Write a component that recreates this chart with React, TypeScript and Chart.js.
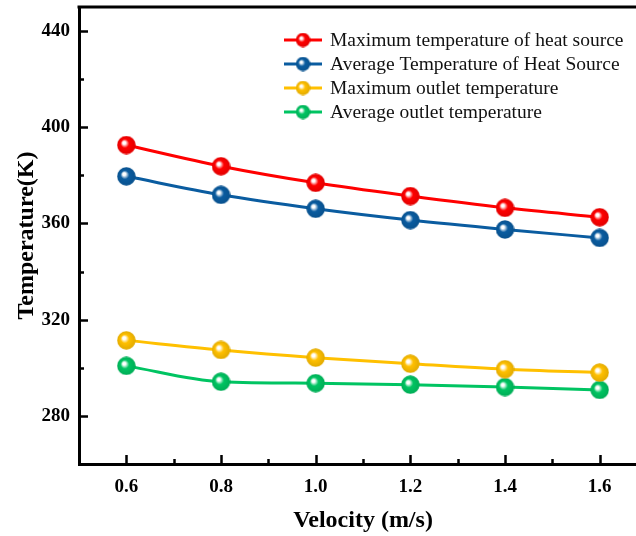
import { useEffect, useRef } from 'react';
import { Chart, registerables } from 'chart.js';

Chart.register(...registerables);

const velocities = [0.6, 0.8, 1.0, 1.2, 1.4, 1.6];
const maxHeatSource = [392.6, 383.8, 376.9, 371.4, 366.5, 362.6];
const avgHeatSource = [379.6, 371.9, 366.1, 361.4, 357.5, 354.0];
const maxOutlet = [311.4, 307.4, 304.2, 301.7, 299.4, 298.0];
const avgOutlet = [300.8, 294.2, 293.6, 293.0, 292.0, 290.8];

const seriesNames = [
  'Maximum temperature of heat source',
  'Average Temperature of Heat Source',
  'Maximum outlet temperature',
  'Average outlet temperature',
];
const seriesColors = ['#FF0000', '#0A5CA0', '#FFC000', '#00C462'];
const seriesValues = [maxHeatSource, avgHeatSource, maxOutlet, avgOutlet];

const xMajorTicks = [0.6, 0.8, 1.0, 1.2, 1.4, 1.6];
const xMinorTicks = [0.7, 0.9, 1.1, 1.3, 1.5];
const yMajorTicks = [280, 320, 360, 400, 440];
const yMinorTicks = [300, 340, 380, 420];

function shade(hex: string, f: number) {
  const n = parseInt(hex.slice(1), 16);
  const r = Math.round(((n >> 16) & 255) * f);
  const g = Math.round(((n >> 8) & 255) * f);
  const b = Math.round((n & 255) * f);
  return `rgb(${r},${g},${b})`;
}

function makeSphere(color: string, d: number) {
  const c = document.createElement('canvas');
  c.width = d;
  c.height = d;
  const g = c.getContext('2d')!;
  const r = d / 2;
  const grad = g.createRadialGradient(r * 0.72, r * 0.72, 0, r, r, r);
  grad.addColorStop(0, '#ffffff');
  grad.addColorStop(0.16, '#ffffff');
  grad.addColorStop(0.45, color);
  grad.addColorStop(1, shade(color, 0.88));
  g.fillStyle = grad;
  g.beginPath();
  g.arc(r, r, r - 0.3, 0, Math.PI * 2);
  g.fill();
  return c;
}

export default function App() {
  const ref = useRef<HTMLCanvasElement | null>(null);

  useEffect(() => {
    document.body.style.overflow = 'hidden';
    Chart.defaults.font.family = "'Liberation Serif', 'Times New Roman', serif";
    const spheres = seriesColors.map((c) => makeSphere(c, 19));
    const legendSpheres = seriesColors.map((c) => makeSphere(c, 15));

    const decor = {
      id: 'decor',
      afterDraw(chart: any) {
        const { ctx, chartArea } = chart;
        const { left, right, top, bottom } = chartArea;
        const xs = chart.scales.x;
        const ys = chart.scales.y;
        ctx.save();
        ctx.strokeStyle = '#000';
        ctx.lineWidth = 2.5;
        ctx.beginPath();
        yMajorTicks.forEach((v) => {
          const p = Math.round(ys.getPixelForValue(v)) + 0.5;
          ctx.moveTo(left, p);
          ctx.lineTo(left + 9, p);
        });
        yMinorTicks.forEach((v) => {
          const p = Math.round(ys.getPixelForValue(v)) + 0.5;
          ctx.moveTo(left, p);
          ctx.lineTo(left + 5, p);
        });
        xMajorTicks.forEach((v) => {
          const p = Math.round(xs.getPixelForValue(v)) + 0.5;
          ctx.moveTo(p, bottom);
          ctx.lineTo(p, bottom - 9);
        });
        xMinorTicks.forEach((v) => {
          const p = Math.round(xs.getPixelForValue(v)) + 0.5;
          ctx.moveTo(p, bottom);
          ctx.lineTo(p, bottom - 5);
        });
        ctx.stroke();
        ctx.lineWidth = 3;
        ctx.beginPath();
        ctx.moveTo(left - 1.5, top);
        ctx.lineTo(right + 2, top);
        ctx.stroke();

        // legend
        const lx = 284;
        const ly = 40;
        seriesNames.forEach((name, i) => {
          const y = ly + i * 24;
          ctx.strokeStyle = seriesColors[i];
          ctx.lineWidth = 3;
          ctx.beginPath();
          ctx.moveTo(lx, y);
          ctx.lineTo(lx + 38, y);
          ctx.stroke();
          ctx.drawImage(legendSpheres[i], lx + 19 - 7.5, y - 7.5);
          ctx.fillStyle = '#111';
          ctx.font = "19.5px 'Liberation Serif'";
          ctx.textAlign = 'left';
          ctx.textBaseline = 'middle';
          ctx.fillText(name, lx + 46, y + 1);
        });
        ctx.restore();
      },
    };

    const chart = new Chart(ref.current!, {
      type: 'line',
      data: {
        datasets: seriesValues.map((vals, i) => ({
          label: seriesNames[i],
          data: vals.map((v, j) => ({ x: velocities[j], y: v })),
          borderColor: seriesColors[i],
          backgroundColor: seriesColors[i],
          borderWidth: 3,
          pointStyle: spheres[i] as any,
          cubicInterpolationMode: 'monotone' as const,
          fill: false,
        })),
      },
      options: {
        animation: false,
        responsive: true,
        maintainAspectRatio: false,
        events: [],
        layout: { padding: { left: 0, right: 13, top: 7, bottom: 0 } },
        plugins: {
          legend: { display: false },
          tooltip: { enabled: false },
        },
        scales: {
          x: {
            type: 'linear',
            min: 0.5,
            max: 1.7,
            afterBuildTicks: (s: any) => {
              s.ticks = xMajorTicks.map((v) => ({ value: v }));
            },
            afterFit: (s: any) => {
              s.height = 72;
              s.paddingLeft = 0;
              s.paddingRight = 0;
            },
            grid: { drawOnChartArea: false, drawTicks: false },
            border: { display: true, color: '#000', width: 3 },
            ticks: {
              color: '#000',
              padding: 12,
              font: { size: 19, weight: 'bold' },
              callback: (v: any) => Number(v).toFixed(1),
              maxRotation: 0,
            },
            title: {
              display: true,
              text: 'Velocity (m/s)',
              color: '#000',
              font: { size: 24, weight: 'bold' },
              padding: { top: 0, bottom: 1 },
            },
          },
          y: {
            type: 'linear',
            min: 260,
            max: 450,
            afterBuildTicks: (s: any) => {
              s.ticks = yMajorTicks.map((v) => ({ value: v }));
            },
            afterFit: (s: any) => {
              s.width = 79;
              s.paddingTop = 0;
              s.paddingBottom = 0;
            },
            grid: { drawOnChartArea: false, drawTicks: false },
            border: { display: true, color: '#000', width: 3 },
            ticks: {
              color: '#000',
              padding: 9,
              font: { size: 19, weight: 'bold' },
              callback: (v: any) => String(v),
            },
            title: {
              display: true,
              text: 'Temperature(K)',
              color: '#000',
              font: { size: 24, weight: 'bold' },
              padding: { top: 12, bottom: 0 },
            },
          },
        },
      },
      plugins: [decor],
    });
    return () => chart.destroy();
  }, []);

  return (
    <div style={{ position: 'fixed', left: 0, top: 0, width: 660, height: 536 }}>
      <canvas ref={ref} />
    </div>
  );
}
